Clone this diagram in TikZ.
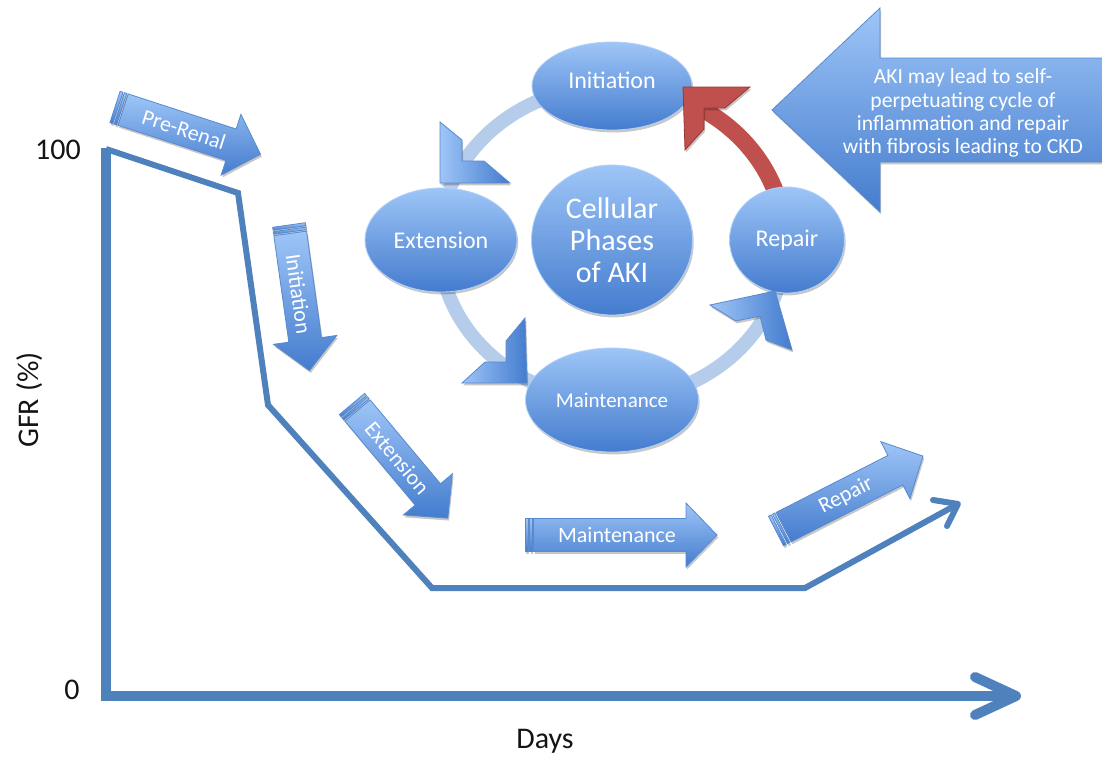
\documentclass[tikz,border=0pt]{standalone}
\usepackage{fontspec}
\setmainfont{Carlito}
\usetikzlibrary{shapes.geometric,shadows}

\definecolor{axisblue}{RGB}{79,129,189}
\definecolor{lightfill}{RGB}{158,197,247}
\definecolor{darkfill}{RGB}{68,124,206}
\definecolor{edgeblue}{RGB}{88,138,206}
\definecolor{arcblue}{RGB}{182,204,235}
\definecolor{cyclered}{RGB}{192,80,77}
\definecolor{cycleredline}{RGB}{150,55,52}
\definecolor{labelgray}{RGB}{20,20,20}

% striped block arrow: name, tail x, tail y, angle, length, text
\newcommand{\phasearrow}[6]{%
  \begin{scope}[shift={(#2,#3)}, rotate=#4]
    \shade[blockarrow] (0,-16.5) rectangle (3,16.5);
    \shade[blockarrow] (4.5,-16.5) rectangle (7,16.5);
    \shade[blockarrow] (8.5,-16.5) -- ({#5-31},-16.5) -- ({#5-31},-32)
      -- (#5,0) -- ({#5-31},32) -- ({#5-31},16.5) -- (8.5,16.5) -- cycle;
    \node[arrowlabel, transform shape] (#1) at ({#5/2-4},0) {#6};
  \end{scope}}

\begin{document}
\begin{tikzpicture}[x=0.5pt, y=-0.5pt,
  axisline/.style={line width=5pt, draw=axisblue, line join=miter},
  axistip/.style={line width=5pt, draw=axisblue, line cap=round, line join=round},
  gfrline/.style={line width=3pt, draw=axisblue, line join=miter},
  gfrtip/.style={line width=3pt, draw=axisblue, line cap=round, line join=round},
  axislabel/.style={text=labelgray, font=\fontsize{15}{16}\selectfont, inner sep=0pt},
  softshadow/.style={drop shadow={shadow xshift=0.6pt, shadow yshift=-1.2pt, opacity=0.22, fill=black}},
  blockarrow/.style={top color=lightfill, bottom color=darkfill, draw=edgeblue, line width=0.4pt, softshadow},
  arrowlabel/.style={text=white, font=\fontsize{11}{12}\selectfont, inner sep=0pt},
  phase/.style={ellipse, inner sep=0pt, top color=lightfill, bottom color=darkfill,
    draw=lightfill!80!white, line width=0.4pt, text=white, align=center,
    font=\fontsize{12}{13}\selectfont, softshadow},
  cyclearc/.style={line width=7pt, draw=arcblue},
  redarc/.style={line width=8.5pt, draw=cyclered},
  cyclehead/.style={left color=lightfill, right color=darkfill, draw=edgeblue, line width=0.4pt, softshadow},
  redhead/.style={fill=cyclered, draw=cycleredline, line width=0.4pt, softshadow},
  bigarrow/.style={top color=lightfill, bottom color=darkfill, draw=edgeblue, line width=0.4pt, softshadow}
]
\useasboundingbox (0,0) rectangle (1102,760);

% ---------- axes ----------
\coordinate (ytop) at (106,148);
\coordinate (origin) at (106,696);
\coordinate (xend) at (1016,696);
\draw[axisline] (ytop) -- (origin) -- ([xshift=-3pt]xend);
\draw[axistip] ([shift={(-41,-19)}]xend) -- (xend) -- ([shift={(-41,19)}]xend);

\node[axislabel] (hundred) at (58,150) {100};
\node[axislabel] (zero) at (72,690) {0};
\node[axislabel, rotate=90] (gfr) at (30,400) {GFR (\%)};
\node[axislabel] (days) at (545,741) {Days};

% ---------- GFR course ----------
\coordinate (g0) at (106,149);
\coordinate (g1) at (238,193);
\coordinate (g2) at (268,405);
\coordinate (g3) at (432,588);
\coordinate (g4) at (805,588);
\coordinate (g5) at (958,504);
\draw[gfrline] (g0) -- (g1) -- (g2) -- (g3) -- (g4) -- ([shift={(-3,1.6)}]g5);
\draw[gfrtip] ([shift={(-25,-4)}]g5) -- (g5) -- ([shift={(-11,22)}]g5);

% ---------- clinical phase arrows ----------
\phasearrow{prerenal}{115}{107}{-18}{153}{Pre-Renal}
\phasearrow{initarrow}{289}{225}{-82}{147}{Initiation}
\phasearrow{extarrow}{352}{404}{-50}{149}{Extension}
\phasearrow{maintarrow}{525}{535}{0}{192}{Maintenance}
\phasearrow{repairarrow}{776}{531}{27}{165}{Repair}

% ---------- cellular cycle ----------
\coordinate (cyc) at (612,243);
\draw[cyclearc] ([shift={(250:173 and 157)}]cyc)
  arc[start angle=250, end angle=200, x radius=173, y radius=157];
\draw[cyclearc] ([shift={(170:173 and 157)}]cyc)
  arc[start angle=170, end angle=115, x radius=173, y radius=157];
\draw[cyclearc] ([shift={(68:173 and 157)}]cyc)
  arc[start angle=68, end angle=12, x radius=173, y radius=157];
\draw[redarc] ([shift={(-5:173 and 157)}]cyc)
  arc[start angle=-5, end angle=-62, x radius=173, y radius=157];

\node[phase, minimum width=80pt, minimum height=44pt] (init) at (612,86)
  {\raisebox{3pt}[\height][\depth]{Initiation}};
\node[phase, minimum width=76pt, minimum height=52pt] (ext) at (441,240) {Extension};
\node[phase, minimum width=80.5pt, minimum height=75pt,
  font=\fontsize{15}{16}\selectfont] (centre) at (612,240) {Cellular\\Phases\\of AKI};
\node[phase, minimum width=57.5pt, minimum height=53pt] (rep) at (787,240) {Repair};
\node[phase, minimum width=86.5pt, minimum height=52pt,
  font=\fontsize{10.5}{12}\selectfont] (maint) at (612,400) {Maintenance};

% arrowheads of the cycle
\shade[cyclehead] (440,183) -- (440,122) -- (462,140) -- (462,161) -- (484,161) -- (510,183) -- cycle;
\shade[cyclehead] (527,383) -- (525,318) -- (506,341) -- (506,362) -- (485,362) -- (462,383) -- cycle;
\shade[cyclehead] (775,291) -- (710,305) -- (736,321) -- (760,316) -- (766,340) -- (792,350) -- cycle;
\path[redhead] (683,87) -- (750,87) -- (725,108) -- (704,108) -- (704,129) -- (685,150) -- cycle;

% ---------- CKD note ----------
\shade[bigarrow] (772,110) -- (880,8) -- (880,58) -- (1106,58) -- (1106,162)
  -- (880,162) -- (880,212) -- cycle;
\node[text=white, align=center, inner sep=0pt,
  font=\fontsize{10.8}{11.6}\selectfont] (note) at (963,113)
  {AKI may lead to self-\\perpetuating cycle of\\inflammation and repair\\with fibrosis leading to CKD};

\end{tikzpicture}
\end{document}
